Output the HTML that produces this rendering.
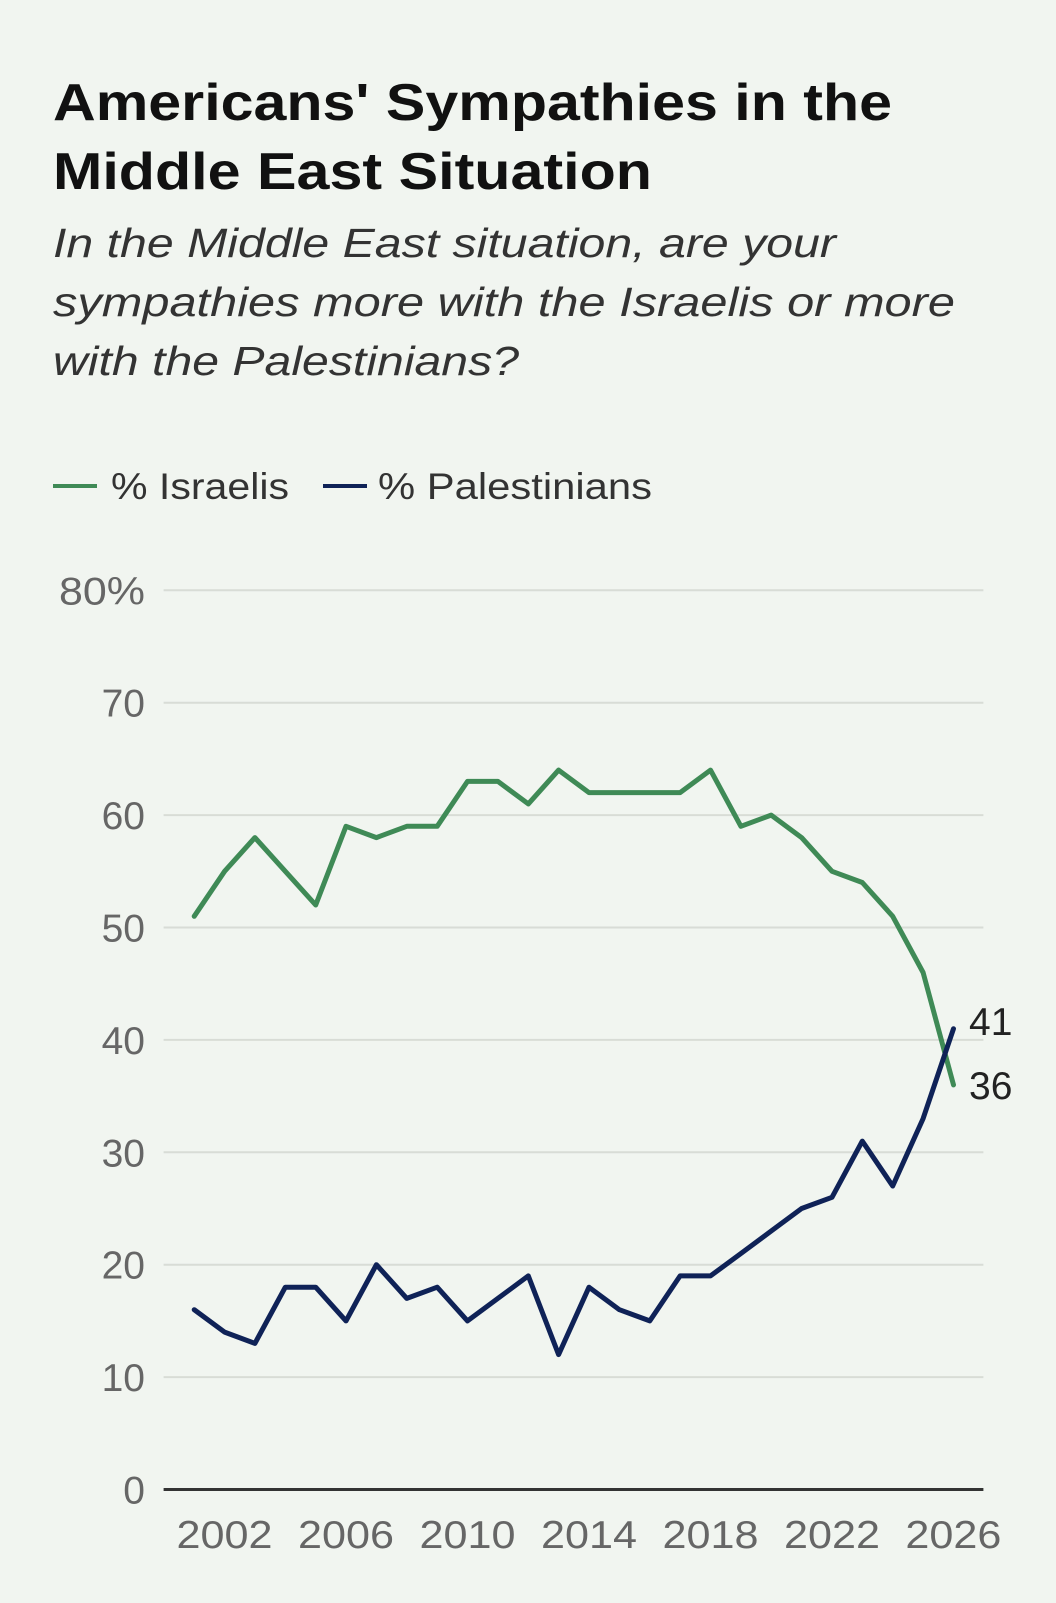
<!DOCTYPE html>
<html><head><meta charset="utf-8"><style>
html,body{margin:0;padding:0;background:#f1f5f0}
svg{display:block}
text{font-family:"Liberation Sans",Arial,sans-serif}
</style></head><body>
<svg id="s" width="1056" height="1603" viewBox="0 0 1056 1603" xmlns="http://www.w3.org/2000/svg">
<rect width="1056" height="1603" fill="#f1f5f0"/>
<text x="53" y="120" font-size="52" font-weight="bold" fill="#111" textLength="839" lengthAdjust="spacingAndGlyphs">Americans' Sympathies in the</text>
<text x="53" y="189" font-size="52" font-weight="bold" fill="#111" textLength="599" lengthAdjust="spacingAndGlyphs">Middle East Situation</text>
<g font-size="41" font-style="italic" fill="#333">
<text x="53" y="257" textLength="783" lengthAdjust="spacingAndGlyphs">In the Middle East situation, are your</text>
<text x="53" y="316" textLength="902" lengthAdjust="spacingAndGlyphs">sympathies more with the Israelis or more</text>
<text x="53" y="375" textLength="466" lengthAdjust="spacingAndGlyphs">with the Palestinians?</text>
</g>
<line x1="53" y1="486" x2="97" y2="486" stroke="#3f8a56" stroke-width="4"/>
<text x="111" y="499" font-size="37" fill="#333" textLength="178" lengthAdjust="spacingAndGlyphs">% Israelis</text>
<line x1="323" y1="486" x2="367" y2="486" stroke="#0f2257" stroke-width="4"/>
<text x="378" y="499" font-size="37" fill="#333" textLength="274" lengthAdjust="spacingAndGlyphs">% Palestinians</text>
<g id="grid"></g>
<g id="lines"></g>
<text x="969" y="1035" font-size="39" fill="#222">41</text>
<text x="969" y="1099" font-size="39" fill="#222">36</text>
</svg>
<script>
var y0=1489.5,per=11.24,x0=194.2,px=30.37,L=163.6,R=983.4;
var g=document.getElementById('grid'),h='';
function Y(v){return y0-v*per}function X(yr){return x0+(yr-2001)*px}
for(var v=10;v<=80;v+=10){h+='<line x1="'+L+'" x2="'+R+'" y1="'+Y(v)+'" y2="'+Y(v)+'" stroke="#d8dcd6" stroke-width="2"/>';
h+='<text x="145" y="'+(Y(v)+14)+'" font-size="39" fill="#666" text-anchor="end"'+(v==80?' textLength="86" lengthAdjust="spacingAndGlyphs"':'')+'>'+v+(v==80?'%':'')+'</text>';}
h+='<text x="145" y="'+(y0+14)+'" font-size="39" fill="#666" text-anchor="end">0</text>';
h+='<line x1="'+L+'" x2="'+R+'" y1="'+y0+'" y2="'+y0+'" stroke="#333" stroke-width="3"/>';
for(var yr=2002;yr<=2026;yr+=4)h+='<text x="'+(X(yr)-48)+'" y="1548" font-size="39" fill="#666" textLength="96" lengthAdjust="spacingAndGlyphs">'+yr+'</text>';
g.innerHTML=h;
var I=[51,55,58,55,52,59,58,59,59,63,63,61,64,62,62,62,62,64,59,60,58,55,54,51,46,36];
var P=[16,14,13,18,18,15,20,17,18,15,17,19,12,18,16,15,19,19,21,23,25,26,31,27,33,41];
function pts(a){return a.map(function(v,i){return X(2001+i).toFixed(1)+','+Y(v).toFixed(1)}).join(' ')}
document.getElementById('lines').innerHTML='<polyline points="'+pts(I)+'" fill="none" stroke="#3f8a56" stroke-width="5" stroke-linejoin="round" stroke-linecap="round"/><polyline points="'+pts(P)+'" fill="none" stroke="#0f2257" stroke-width="5" stroke-linejoin="round" stroke-linecap="round"/>';
</script>
</body></html>
